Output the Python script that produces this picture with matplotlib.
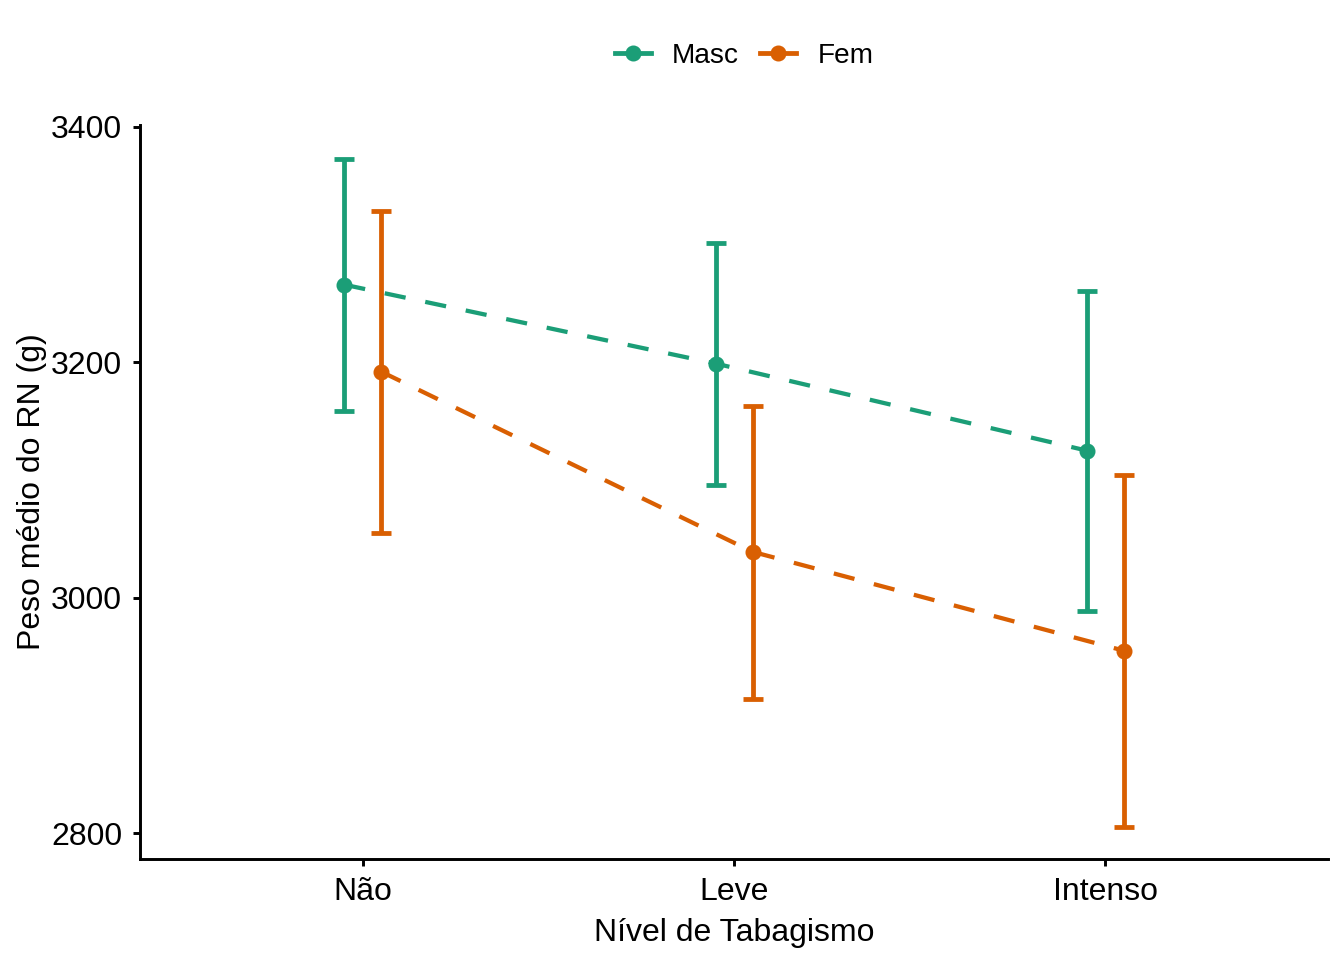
import numpy as np
import matplotlib
matplotlib.use("Agg")
import matplotlib.pyplot as plt
from matplotlib.lines import Line2D

plt.rcParams['font.family'] = ['Liberation Sans', 'DejaVu Sans']

# data
niveis = ["Não", "Leve", "Intenso"]
masc_media = [3266, 3199, 3125]
masc_sup = [3373, 3301, 3261]
masc_inf = [3159, 3096, 2989]
fem_media = [3192, 3039, 2955]
fem_sup = [3329, 3163, 3104]
fem_inf = [3055, 2914, 2805]

verde = "#1B9E77"
laranja = "#D95F02"

fig = plt.figure(figsize=(7, 5), dpi=192)
ax = fig.add_axes([0.1042, 0.1052, 0.884, 0.765])

x = np.arange(1, len(niveis) + 1)
grupos = [("Masc", masc_media, masc_inf, masc_sup, verde, -0.05),
          ("Fem", fem_media, fem_inf, fem_sup, laranja, 0.05)]

for nome, media, inf, sup, cor, d in grupos:
    xs = x + d
    media = np.array(media)
    ax.plot(xs, media, color=cor, lw=1.6, linestyle=(0, (5.0, 4.7)), zorder=2)
    ax.plot(xs, media, "o", color=cor, markersize=5, zorder=3)
    yerr = [media - np.array(inf), np.array(sup) - media]
    ax.errorbar(xs, media, yerr=yerr, fmt="none", ecolor=cor, elinewidth=1.8,
                capsize=3.6, capthick=1.8, zorder=4)

ax.set_xlim(0.4, 3.6)
ax.set_ylim(2778, 3402)
ax.set_xticks(x)
ax.set_xticklabels(niveis)
ax.set_yticks([2800, 3000, 3200, 3400])

for s in ["top", "right"]:
    ax.spines[s].set_visible(False)
for s in ["left", "bottom"]:
    ax.spines[s].set_linewidth(1.1)
ax.tick_params(axis="both", length=2.7, width=1.1, labelsize=12, pad=4.0, colors="black")

ax.set_xlabel("Nível de Tabagismo", fontsize=12, labelpad=4)
ax.set_ylabel("Peso médio do RN (g)", fontsize=12, labelpad=1.5)

handles = [Line2D([0], [0], color=verde, lw=1.8, marker="o", markersize=5),
           Line2D([0], [0], color=laranja, lw=1.8, marker="o", markersize=5)]
fig.legend(handles, ["Masc", "Fem"], loc="center", bbox_to_anchor=(0.5536, 0.942),
           ncol=2, frameon=False, fontsize=10.5, handlelength=1.3, handletextpad=0.75,
           columnspacing=0.75)

fig.savefig("out.png", dpi=192)
